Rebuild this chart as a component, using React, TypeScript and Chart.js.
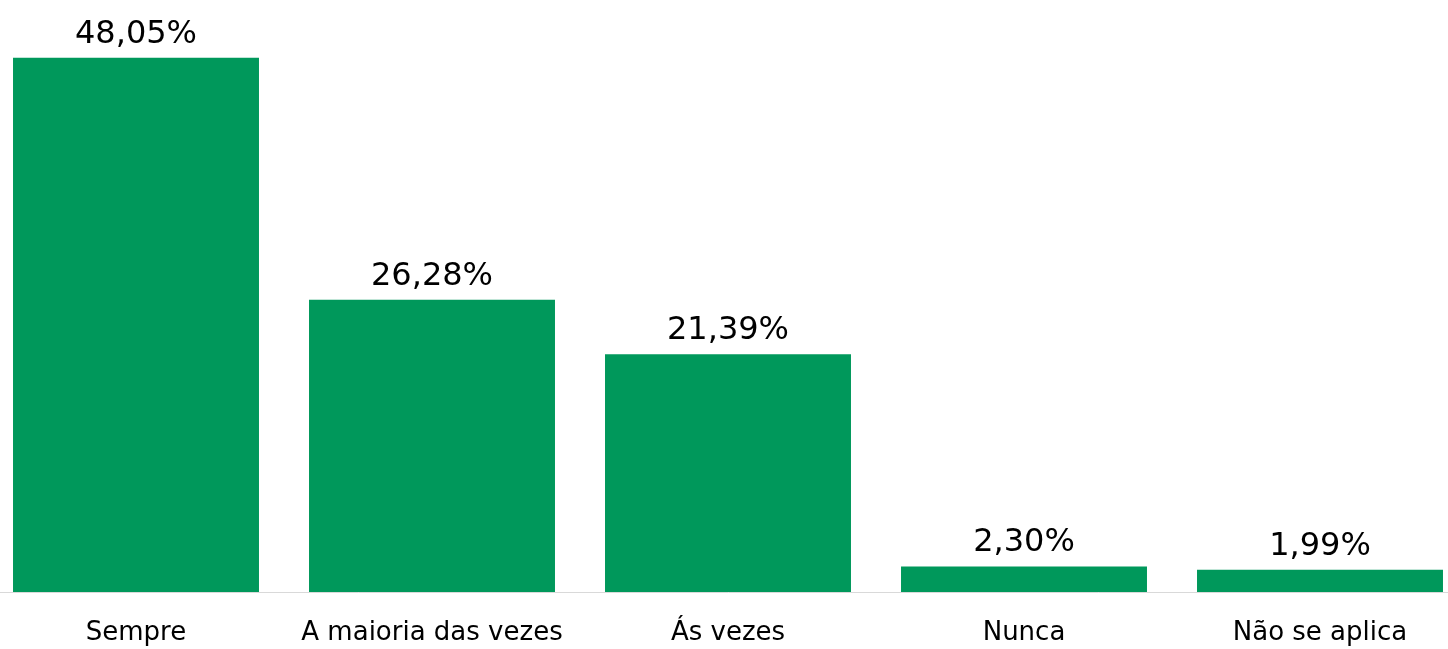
import React, { useEffect, useRef } from "react";
import { Chart, registerables } from "chart.js";

Chart.register(...registerables);

const categories = ["Sempre", "A maioria das vezes", "Ás vezes", "Nunca", "Não se aplica"];
const values = [48.05, 26.28, 21.39, 2.3, 1.99];
const valueLabels = ["48,05%", "26,28%", "21,39%", "2,30%", "1,99%"];

const FONT = "'DejaVu Sans', Tahoma, sans-serif";

const labelPlugin = {
  id: "valueLabels",
  afterDatasetsDraw(chart: any) {
    const ctx = chart.ctx;
    const meta = chart.getDatasetMeta(0);
    ctx.save();
    ctx.font = `32px ${FONT}`;
    ctx.fillStyle = "#000000";
    ctx.textAlign = "center";
    ctx.textBaseline = "alphabetic";
    meta.data.forEach((bar: any, i: number) => {
      ctx.fillText(valueLabels[i], bar.x, bar.y - 15);
    });
    ctx.restore();
  },
};

export default function App() {
  const ref = useRef<HTMLCanvasElement | null>(null);
  useEffect(() => {
    if (!ref.current) return;
    const chart = new Chart(ref.current, {
      type: "bar",
      data: {
        labels: categories,
        datasets: [
          {
            data: values,
            backgroundColor: "#00985B",
            barPercentage: 0.831,
            categoryPercentage: 1,
          },
        ],
      },
      options: {
        animation: false,
        responsive: true,
        maintainAspectRatio: false,
        layout: { padding: { top: 36, left: 0, right: 0, bottom: 0 } },
        plugins: { legend: { display: false }, tooltip: { enabled: false } },
        scales: {
          x: {
            grid: { display: false, drawTicks: false },
            border: { display: true, color: "#D9D9D9", width: 1 },
            ticks: { color: "#000000", font: { family: FONT, size: 26 }, padding: 26, maxRotation: 0, autoSkip: false },
            afterFit(scale: any) {
              scale.height = 57;
            },
          },
          y: {
            display: false,
            min: 0,
            max: 50,
          },
        },
      },
      plugins: [labelPlugin],
    });
    return () => chart.destroy();
  }, []);
  return (
    <div style={{ position: "fixed", left: -12, top: 0, width: 1480, height: 649 }}>
      <canvas ref={ref} />
    </div>
  );
}
